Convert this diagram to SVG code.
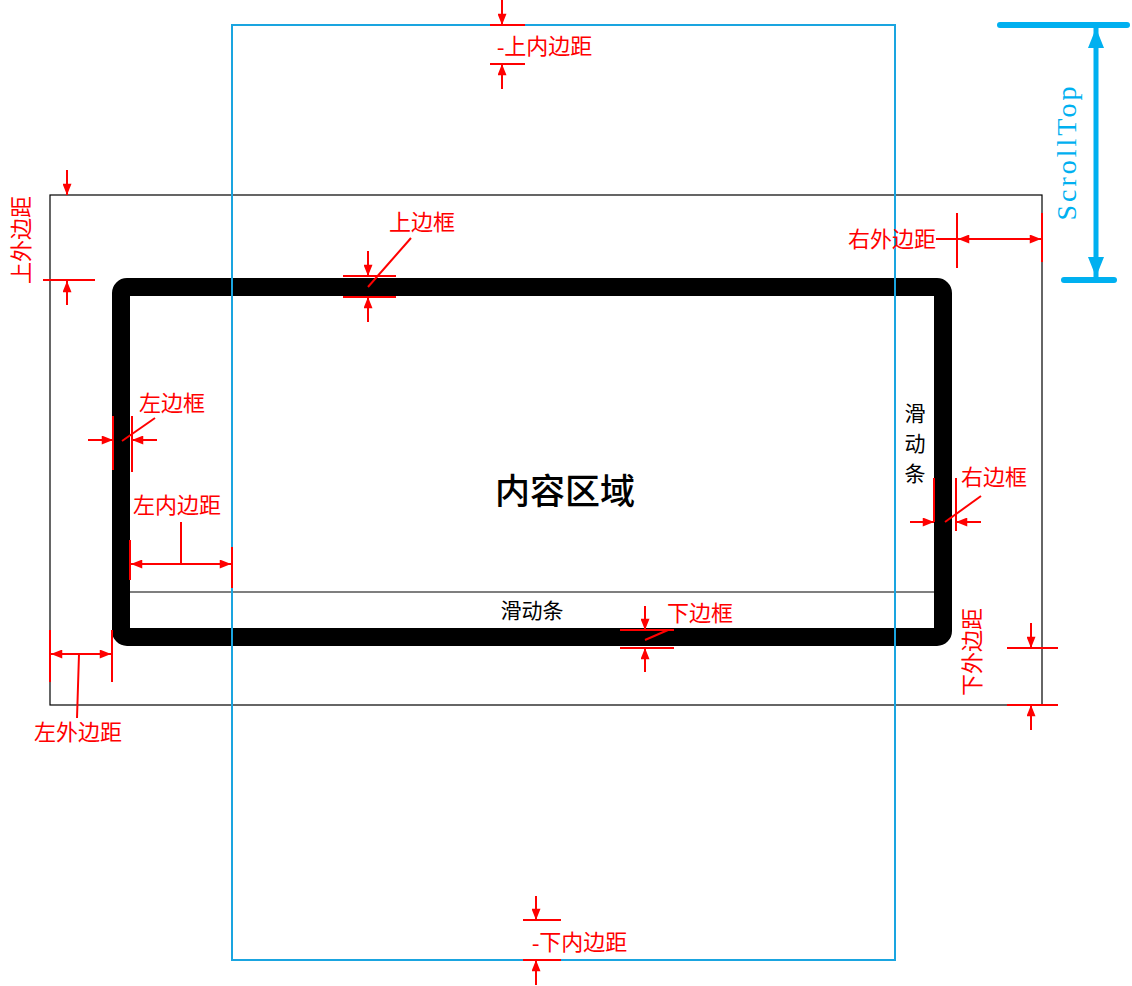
<svg xmlns="http://www.w3.org/2000/svg" width="1132" height="986" viewBox="0 0 1132 986">
<defs>
<marker id="ar" viewBox="0 0 10 8" refX="10" refY="4" markerWidth="12" markerHeight="9" markerUnits="userSpaceOnUse" orient="auto-start-reverse"><path d="M0,0L10,4L0,8z" fill="#f00"/></marker>
<marker id="ab" viewBox="0 0 10 8" refX="10" refY="4" markerWidth="20" markerHeight="16" markerUnits="userSpaceOnUse" orient="auto-start-reverse"><path d="M0,0L10,4L0,8z" fill="#00b0f0"/></marker>
<style>
.r{stroke:#f00;stroke-width:2;fill:none}
.ra{stroke:#f00;stroke-width:2;fill:none;marker-end:url(#ar)}
.rd{stroke:#f00;stroke-width:2;fill:none;marker-end:url(#ar);marker-start:url(#ar)}
.t{font-family:"Liberation Serif","Noto Sans CJK SC",serif;font-size:22px;fill:#f00}
.k{font-family:"Liberation Serif","Noto Sans CJK SC",serif;font-size:21px;fill:#000}
</style>
</defs>
<rect width="1132" height="986" fill="#fff"/>
<g id="outer-box"><rect x="50" y="195" width="992" height="510" fill="none" stroke="#000" stroke-width="1.2"/></g>
<g id="border-box">
<rect x="121" y="287" width="822" height="350" rx="6" fill="none" stroke="#000" stroke-width="18"/>
<line x1="130" y1="592" x2="934" y2="592" stroke="#000" stroke-width="1.2"/>
</g>
<g id="content-box"><rect x="232" y="25" width="663" height="935" fill="none" stroke="#1aa5e0" stroke-width="2"/></g>
<g id="labels-black">
<text x="565" y="504" font-family="'Noto Sans CJK SC',sans-serif" font-size="35" text-anchor="middle" font-weight="500">内容区域</text>
<text class="k" x="532" y="618" text-anchor="middle">滑动条</text>
<text class="k" x="915" y="421" text-anchor="middle">滑</text>
<text class="k" x="915" y="451" text-anchor="middle">动</text>
<text class="k" x="915" y="481" text-anchor="middle">条</text>
</g>
<g id="connectors">
<line class="ra" x1="67" y1="170" x2="67" y2="195"/>
<line class="r" x1="43" y1="280" x2="95" y2="280"/>
<line class="ra" x1="67" y1="305" x2="67" y2="281"/>
<line class="r" x1="343" y1="276" x2="396" y2="276"/>
<line class="r" x1="343" y1="297" x2="396" y2="297"/>
<line class="ra" x1="368" y1="251" x2="368" y2="276"/>
<line class="ra" x1="368" y1="322" x2="368" y2="297"/>
<line class="r" x1="368" y1="287" x2="411" y2="238"/>
<line class="r" x1="113" y1="416" x2="113" y2="470"/>
<line class="r" x1="132" y1="416" x2="132" y2="472"/>
<line class="ra" x1="88" y1="440" x2="113" y2="440"/>
<line class="ra" x1="157" y1="440" x2="132" y2="440"/>
<line class="r" x1="122" y1="441" x2="155" y2="418"/>
<line class="r" x1="130" y1="540" x2="130" y2="580"/>
<line class="r" x1="232" y1="547" x2="232" y2="588"/>
<line class="rd" x1="131" y1="564" x2="231" y2="564"/>
<line class="r" x1="181" y1="522" x2="181" y2="564"/>
<line class="r" x1="50" y1="630" x2="50" y2="682"/>
<line class="r" x1="112" y1="630" x2="112" y2="682"/>
<line class="rd" x1="51" y1="654" x2="111" y2="654"/>
<line class="r" x1="79" y1="654" x2="77" y2="718"/>
<line class="ra" x1="502" y1="0" x2="502" y2="25"/>
<line class="r" x1="490" y1="25" x2="525" y2="25"/>
<line class="r" x1="490" y1="64" x2="525" y2="64"/>
<line class="ra" x1="502" y1="89" x2="502" y2="64"/>
<line class="ra" x1="536" y1="896" x2="536" y2="920"/>
<line class="r" x1="523" y1="920" x2="561" y2="920"/>
<line class="r" x1="523" y1="960" x2="561" y2="960"/>
<line class="ra" x1="536" y1="985" x2="536" y2="960"/>
<line class="r" x1="620" y1="630" x2="674" y2="630"/>
<line class="r" x1="620" y1="648" x2="674" y2="648"/>
<line class="ra" x1="645" y1="606" x2="645" y2="630"/>
<line class="ra" x1="645" y1="672" x2="645" y2="648"/>
<line class="r" x1="645" y1="640" x2="668" y2="630"/>
<line class="r" x1="934" y1="478" x2="934" y2="522"/>
<line class="r" x1="956" y1="478" x2="956" y2="531"/>
<line class="ra" x1="910" y1="522" x2="934" y2="522"/>
<line class="ra" x1="981" y1="522" x2="956" y2="522"/>
<line class="r" x1="945" y1="522" x2="981" y2="496"/>
<line class="r" x1="957" y1="213" x2="957" y2="268"/>
<line class="r" x1="1042" y1="213" x2="1042" y2="262"/>
<line class="rd" x1="958" y1="239" x2="1041" y2="239"/>
<line class="r" x1="936" y1="239" x2="958" y2="239"/>
<line class="r" x1="1007" y1="648" x2="1058" y2="648"/>
<line class="r" x1="1007" y1="705" x2="1058" y2="705"/>
<line class="ra" x1="1031" y1="623" x2="1031" y2="648"/>
<line class="ra" x1="1031" y1="730" x2="1031" y2="705"/>
<line x1="1000" y1="25" x2="1127" y2="25" stroke="#00b0f0" stroke-width="6" stroke-linecap="round"/>
<line x1="1064" y1="280" x2="1114" y2="280" stroke="#00b0f0" stroke-width="6" stroke-linecap="round"/>
<line x1="1096" y1="28" x2="1096" y2="277" stroke="#00b0f0" stroke-width="5" marker-start="url(#ab)" marker-end="url(#ab)"/>
</g>
<g id="labels-red">
<text class="t" x="24" y="240" text-anchor="middle" transform="rotate(-90 24 240)" dominant-baseline="middle">上外边距</text>
<text class="t" x="389" y="230">上边框</text>
<text class="t" x="139" y="411">左边框</text>
<text class="t" x="133" y="513">左内边距</text>
<text class="t" x="78" y="740" text-anchor="middle">左外边距</text>
<text class="t" x="497" y="54">-上内边距</text>
<text class="t" x="532" y="950">-下内边距</text>
<text class="t" x="667" y="621">下边框</text>
<text class="t" x="961" y="485">右边框</text>
<text class="t" x="936" y="247" text-anchor="end">右外边距</text>
<text class="t" x="975" y="652" text-anchor="middle" transform="rotate(-90 975 652)" dominant-baseline="middle">下外边距</text>
<text x="1070" y="152" font-family="'Liberation Serif',serif" font-size="28" fill="#00b0f0" text-anchor="middle" transform="rotate(-90 1070 152)" dominant-baseline="middle" letter-spacing="3">ScrollTop</text>
</g>
</svg>
